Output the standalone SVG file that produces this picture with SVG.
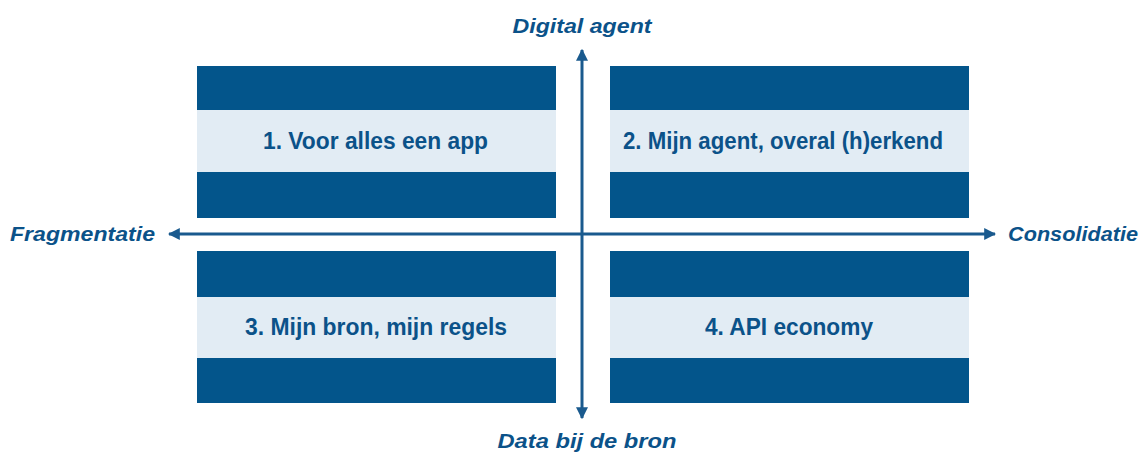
<svg xmlns="http://www.w3.org/2000/svg" width="1147" height="453" viewBox="0 0 1147 453">
<defs>
<style>
.dark{fill:#03558b}
.light{fill:#e2ecf4}
.lbl{font-family:"Liberation Sans",Arial,sans-serif;font-weight:bold;fill:#0b5289;font-size:23px;text-anchor:middle}
.ax{font-family:"Liberation Sans",Arial,sans-serif;font-weight:bold;font-style:italic;fill:#0b5289;font-size:20px}
.axis{stroke:#1a5a8e;stroke-width:3;fill:none}
</style>
<marker id="ah" viewBox="0 0 10 10" refX="9" refY="5" markerWidth="4" markerHeight="4" orient="auto" markerUnits="strokeWidth">
<path d="M0,0 L10,5 L0,10 Z" fill="#1a5a8e"/>
</marker>
</defs>
<rect width="1147" height="453" fill="#ffffff"/>
<g id="q1">
<rect class="dark" x="197" y="66" width="359" height="44"/>
<rect class="light" x="197" y="110" width="359" height="62"/>
<rect class="dark" x="197" y="172" width="359" height="46"/>
<text class="lbl" x="375.5" y="149" textLength="225" lengthAdjust="spacingAndGlyphs">1. Voor alles een app</text>
</g>
<g id="q2">
<rect class="dark" x="610" y="66" width="359" height="44"/>
<rect class="light" x="610" y="110" width="359" height="62"/>
<rect class="dark" x="610" y="172" width="359" height="46"/>
<text class="lbl" x="783" y="149" textLength="320" lengthAdjust="spacingAndGlyphs">2. Mijn agent, overal (h)erkend</text>
</g>
<g id="q3">
<rect class="dark" x="197" y="251" width="359" height="46"/>
<rect class="light" x="197" y="297" width="359" height="61"/>
<rect class="dark" x="197" y="358" width="359" height="45"/>
<text class="lbl" x="376" y="335" textLength="262" lengthAdjust="spacingAndGlyphs">3. Mijn bron, mijn regels</text>
</g>
<g id="q4">
<rect class="dark" x="610" y="251" width="359" height="46"/>
<rect class="light" x="610" y="297" width="359" height="61"/>
<rect class="dark" x="610" y="358" width="359" height="45"/>
<text class="lbl" x="789" y="335" textLength="168" lengthAdjust="spacingAndGlyphs">4. API economy</text>
</g>
<g id="connectors">
<line class="axis" x1="582" y1="234" x2="169" y2="234" marker-end="url(#ah)"/>
<line class="axis" x1="582" y1="234" x2="995" y2="234" marker-end="url(#ah)"/>
<line class="axis" x1="582" y1="234" x2="582" y2="50" marker-end="url(#ah)"/>
<line class="axis" x1="582" y1="234" x2="582" y2="418" marker-end="url(#ah)"/>
</g>
<g id="labels">
<text class="ax" x="582" y="33" text-anchor="middle" textLength="139" lengthAdjust="spacingAndGlyphs">Digital agent</text>
<text class="ax" x="587" y="448" text-anchor="middle" textLength="179" lengthAdjust="spacingAndGlyphs">Data bij de bron</text>
<text class="ax" x="10" y="241" textLength="145" lengthAdjust="spacingAndGlyphs">Fragmentatie</text>
<text class="ax" x="1008" y="241" textLength="130" lengthAdjust="spacingAndGlyphs">Consolidatie</text>
</g>
</svg>
